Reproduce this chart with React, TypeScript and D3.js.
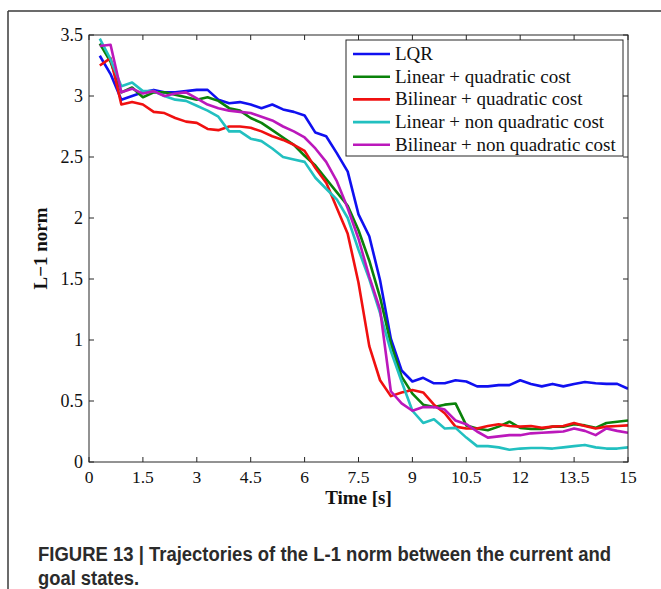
import React from 'react';
import * as d3 from 'd3';

const time = [0.3, 0.6, 0.9, 1.2, 1.5, 1.8, 2.1, 2.4, 2.7, 3.0, 3.3, 3.6, 3.9, 4.2, 4.5, 4.8, 5.1, 5.4, 5.7, 6.0, 6.3, 6.6, 6.9, 7.2, 7.5, 7.8, 8.1, 8.4, 8.7, 9.0, 9.3, 9.6, 9.9, 10.2, 10.5, 10.8, 11.1, 11.4, 11.7, 12.0, 12.3, 12.6, 12.9, 13.2, 13.5, 13.8, 14.1, 14.4, 14.7, 15.0];

const lqr = [3.33, 3.18, 2.97, 3.0, 3.03, 3.05, 3.03, 3.03, 3.04, 3.05, 3.05, 2.97, 2.94, 2.95, 2.93, 2.9, 2.93, 2.89, 2.87, 2.84, 2.7, 2.67, 2.53, 2.38, 2.03, 1.85, 1.49, 1.01, 0.75, 0.66, 0.69, 0.645, 0.645, 0.67, 0.66, 0.62, 0.62, 0.63, 0.63, 0.67, 0.64, 0.62, 0.64, 0.62, 0.64, 0.656, 0.645, 0.64, 0.64, 0.6];
const linQuad = [3.43, 3.28, 3.03, 3.07, 2.99, 3.03, 3.03, 3.01, 2.99, 2.97, 2.99, 2.96, 2.9, 2.88, 2.82, 2.78, 2.72, 2.66, 2.6, 2.51, 2.43, 2.32, 2.21, 2.1, 1.9, 1.65, 1.35, 0.97, 0.7, 0.56, 0.47, 0.45, 0.47, 0.48, 0.3, 0.275, 0.26, 0.29, 0.33, 0.28, 0.27, 0.27, 0.29, 0.29, 0.31, 0.3, 0.28, 0.32, 0.33, 0.34];
const bilQuad = [3.25, 3.31, 2.93, 2.95, 2.93, 2.87, 2.86, 2.82, 2.79, 2.78, 2.73, 2.72, 2.75, 2.75, 2.74, 2.71, 2.67, 2.64, 2.6, 2.55, 2.41, 2.29, 2.08, 1.87, 1.47, 0.95, 0.67, 0.54, 0.57, 0.59, 0.57, 0.47, 0.4, 0.29, 0.275, 0.275, 0.295, 0.31, 0.295, 0.29, 0.295, 0.28, 0.29, 0.295, 0.32, 0.295, 0.275, 0.29, 0.295, 0.3];
const linNonQuad = [3.47, 3.3, 3.08, 3.11, 3.04, 3.04, 3.0, 2.97, 2.96, 2.92, 2.88, 2.83, 2.71, 2.71, 2.65, 2.63, 2.57, 2.5, 2.48, 2.46, 2.33, 2.24, 2.15, 2.0, 1.74, 1.5, 1.22, 0.91, 0.66, 0.42, 0.32, 0.35, 0.275, 0.28, 0.2, 0.13, 0.13, 0.12, 0.1, 0.11, 0.115, 0.115, 0.11, 0.12, 0.13, 0.14, 0.12, 0.11, 0.11, 0.12];
const bilNonQuad = [3.41, 3.42, 3.03, 3.06, 3.02, 3.04, 3.0, 3.02, 3.03, 2.98, 2.93, 2.9, 2.88, 2.87, 2.86, 2.83, 2.8, 2.75, 2.71, 2.66, 2.57, 2.46, 2.3, 2.08, 1.83, 1.52, 1.25, 0.58, 0.48, 0.42, 0.45, 0.45, 0.43, 0.34, 0.31, 0.25, 0.2, 0.21, 0.22, 0.22, 0.235, 0.24, 0.245, 0.25, 0.275, 0.255, 0.22, 0.275, 0.255, 0.24];

const seriesNames = ['LQR', 'Linear + quadratic cost', 'Bilinear + quadratic cost', 'Linear + non quadratic cost', 'Bilinear + non quadratic cost'];
const seriesValues = [lqr, linQuad, bilQuad, linNonQuad, bilNonQuad];
const seriesColors = ['#1010f0', '#0a820a', '#f01010', '#22c0c0', '#bb18bb'];

const xTicks = [0, 1.5, 3, 4.5, 6, 7.5, 9, 10.5, 12, 13.5, 15];
const yTicks = [0, 0.5, 1, 1.5, 2, 2.5, 3, 3.5];

const serif = '"Liberation Serif", "Times New Roman", serif';
const sans = '"Liberation Sans Narrow", "Liberation Sans", Arial, sans-serif';

export default function App() {
  const W = 661, H = 589;
  const L = 89, R = 628, T = 35, B = 462;
  const x = d3.scaleLinear().domain([0, 15]).range([L, R]);
  const y = d3.scaleLinear().domain([0, 3.5]).range([B, T]);
  const line = d3.line<number>().x((_, i) => x(time[i])).y(d => y(d));
  const tk = 5;
  const axisColor = '#262626';
  const legX = 346, legY = 40, legW = 277, legH = 116, rowH = 22.7;

  return (
    <svg width={W} height={H} style={{ position: 'absolute', left: 0, top: 0, background: '#fff' }}>
      <rect x={0} y={0} width={W} height={H} fill="#fff" />
      {/* figure frame */}
      <line x1={8} y1={11} x2={W} y2={11} stroke="#3a3a3a" strokeWidth={1.5} />
      <line x1={8} y1={11} x2={8} y2={H} stroke="#3a3a3a" strokeWidth={1.5} />

      <defs>
        <clipPath id="plotclip">
          <rect x={L} y={T - 3} width={R - L} height={B - T + 3} />
        </clipPath>
      </defs>

      {/* series */}
      <g clipPath="url(#plotclip)">
        {seriesValues.map((vals, i) => (
          <path key={i} d={line(vals) || ''} fill="none" stroke={seriesColors[i]} strokeWidth={2.6} strokeLinejoin="round" />
        ))}
      </g>

      {/* axes box */}
      <rect x={L} y={T} width={R - L} height={B - T} fill="none" stroke={axisColor} strokeWidth={1} />
      {xTicks.map(t => (
        <g key={'x' + t}>
          <line x1={x(t)} x2={x(t)} y1={B} y2={B - tk} stroke={axisColor} />
          <line x1={x(t)} x2={x(t)} y1={T} y2={T + tk} stroke={axisColor} />
          <text x={x(t)} y={483} textAnchor="middle" fontFamily={serif} fontSize={17.5} fill="#111">{String(t)}</text>
        </g>
      ))}
      {yTicks.map(t => (
        <g key={'y' + t}>
          <line x1={L} x2={L + tk} y1={y(t)} y2={y(t)} stroke={axisColor} />
          <line x1={R} x2={R - tk} y1={y(t)} y2={y(t)} stroke={axisColor} />
          <text x={83} y={y(t) + 6} textAnchor="end" fontFamily={serif} fontSize={18} fill="#111">{String(t)}</text>
        </g>
      ))}

      {/* axis titles */}
      <text x={(L + R) / 2} y={504} textAnchor="middle" fontFamily={serif} fontSize={19} fontWeight="bold" fill="#111">Time [s]</text>
      <text transform={`translate(47,${(T + B) / 2}) rotate(-90)`} textAnchor="middle" fontFamily={serif} fontSize={19} fontWeight="bold" fill="#111">L−1 norm</text>

      {/* legend */}
      <rect x={legX} y={legY} width={legW} height={legH} fill="#fff" stroke={axisColor} strokeWidth={1} />
      {seriesNames.map((n, i) => {
        const cy = legY + 14 + i * rowH;
        return (
          <g key={n}>
            <line x1={353} x2={390} y1={cy} y2={cy} stroke={seriesColors[i]} strokeWidth={2.6} />
            <text x={395} y={cy + 6} fontFamily={serif} fontSize={19} fill="#111">{n}</text>
          </g>
        );
      })}

      {/* caption */}
      <text x={38} y={561} fontFamily={sans} fontSize={19.5} fontWeight="bold" fill="#2b2b2b" textLength={573} lengthAdjust="spacingAndGlyphs">FIGURE 13 | Trajectories of the L-1 norm between the current and</text>
      <text x={38} y={585} fontFamily={sans} fontSize={19.5} fontWeight="bold" fill="#2b2b2b" textLength={101} lengthAdjust="spacingAndGlyphs">goal states.</text>
    </svg>
  );
}
